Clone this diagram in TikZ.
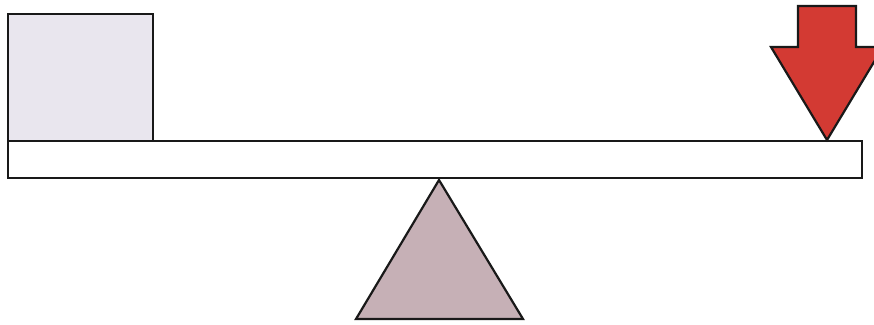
\documentclass[tikz,border=0pt]{standalone}
\definecolor{boxfill}{HTML}{E9E6EE}
\definecolor{arrowred}{HTML}{D33A33}
\definecolor{fulcrum}{HTML}{C6B0B6}
\tikzset{outline/.style={draw=black!90, line width=2.2pt, line join=miter}}
\begin{document}
\begin{tikzpicture}[x=1pt,y=-1pt]
\useasboundingbox (0,0) rectangle (874,324);
\clip (0,0) rectangle (874,324);
\fill[white] (0,0) rectangle (874,324);
% load block
\draw[outline, fill=boxfill] (8,14) rectangle (153,141);
% beam
\draw[outline, fill=white] (8,141) rectangle (862,178);
% fulcrum
\draw[outline, fill=fulcrum] (439,180) -- (523,319) -- (356,319) -- cycle;
% force arrow
\draw[outline, fill=arrowred] (798,6) -- (856,6) -- (856,47) -- (883,47) -- (827,140) -- (771,47) -- (798,47) -- cycle;
\end{tikzpicture}
\end{document}
